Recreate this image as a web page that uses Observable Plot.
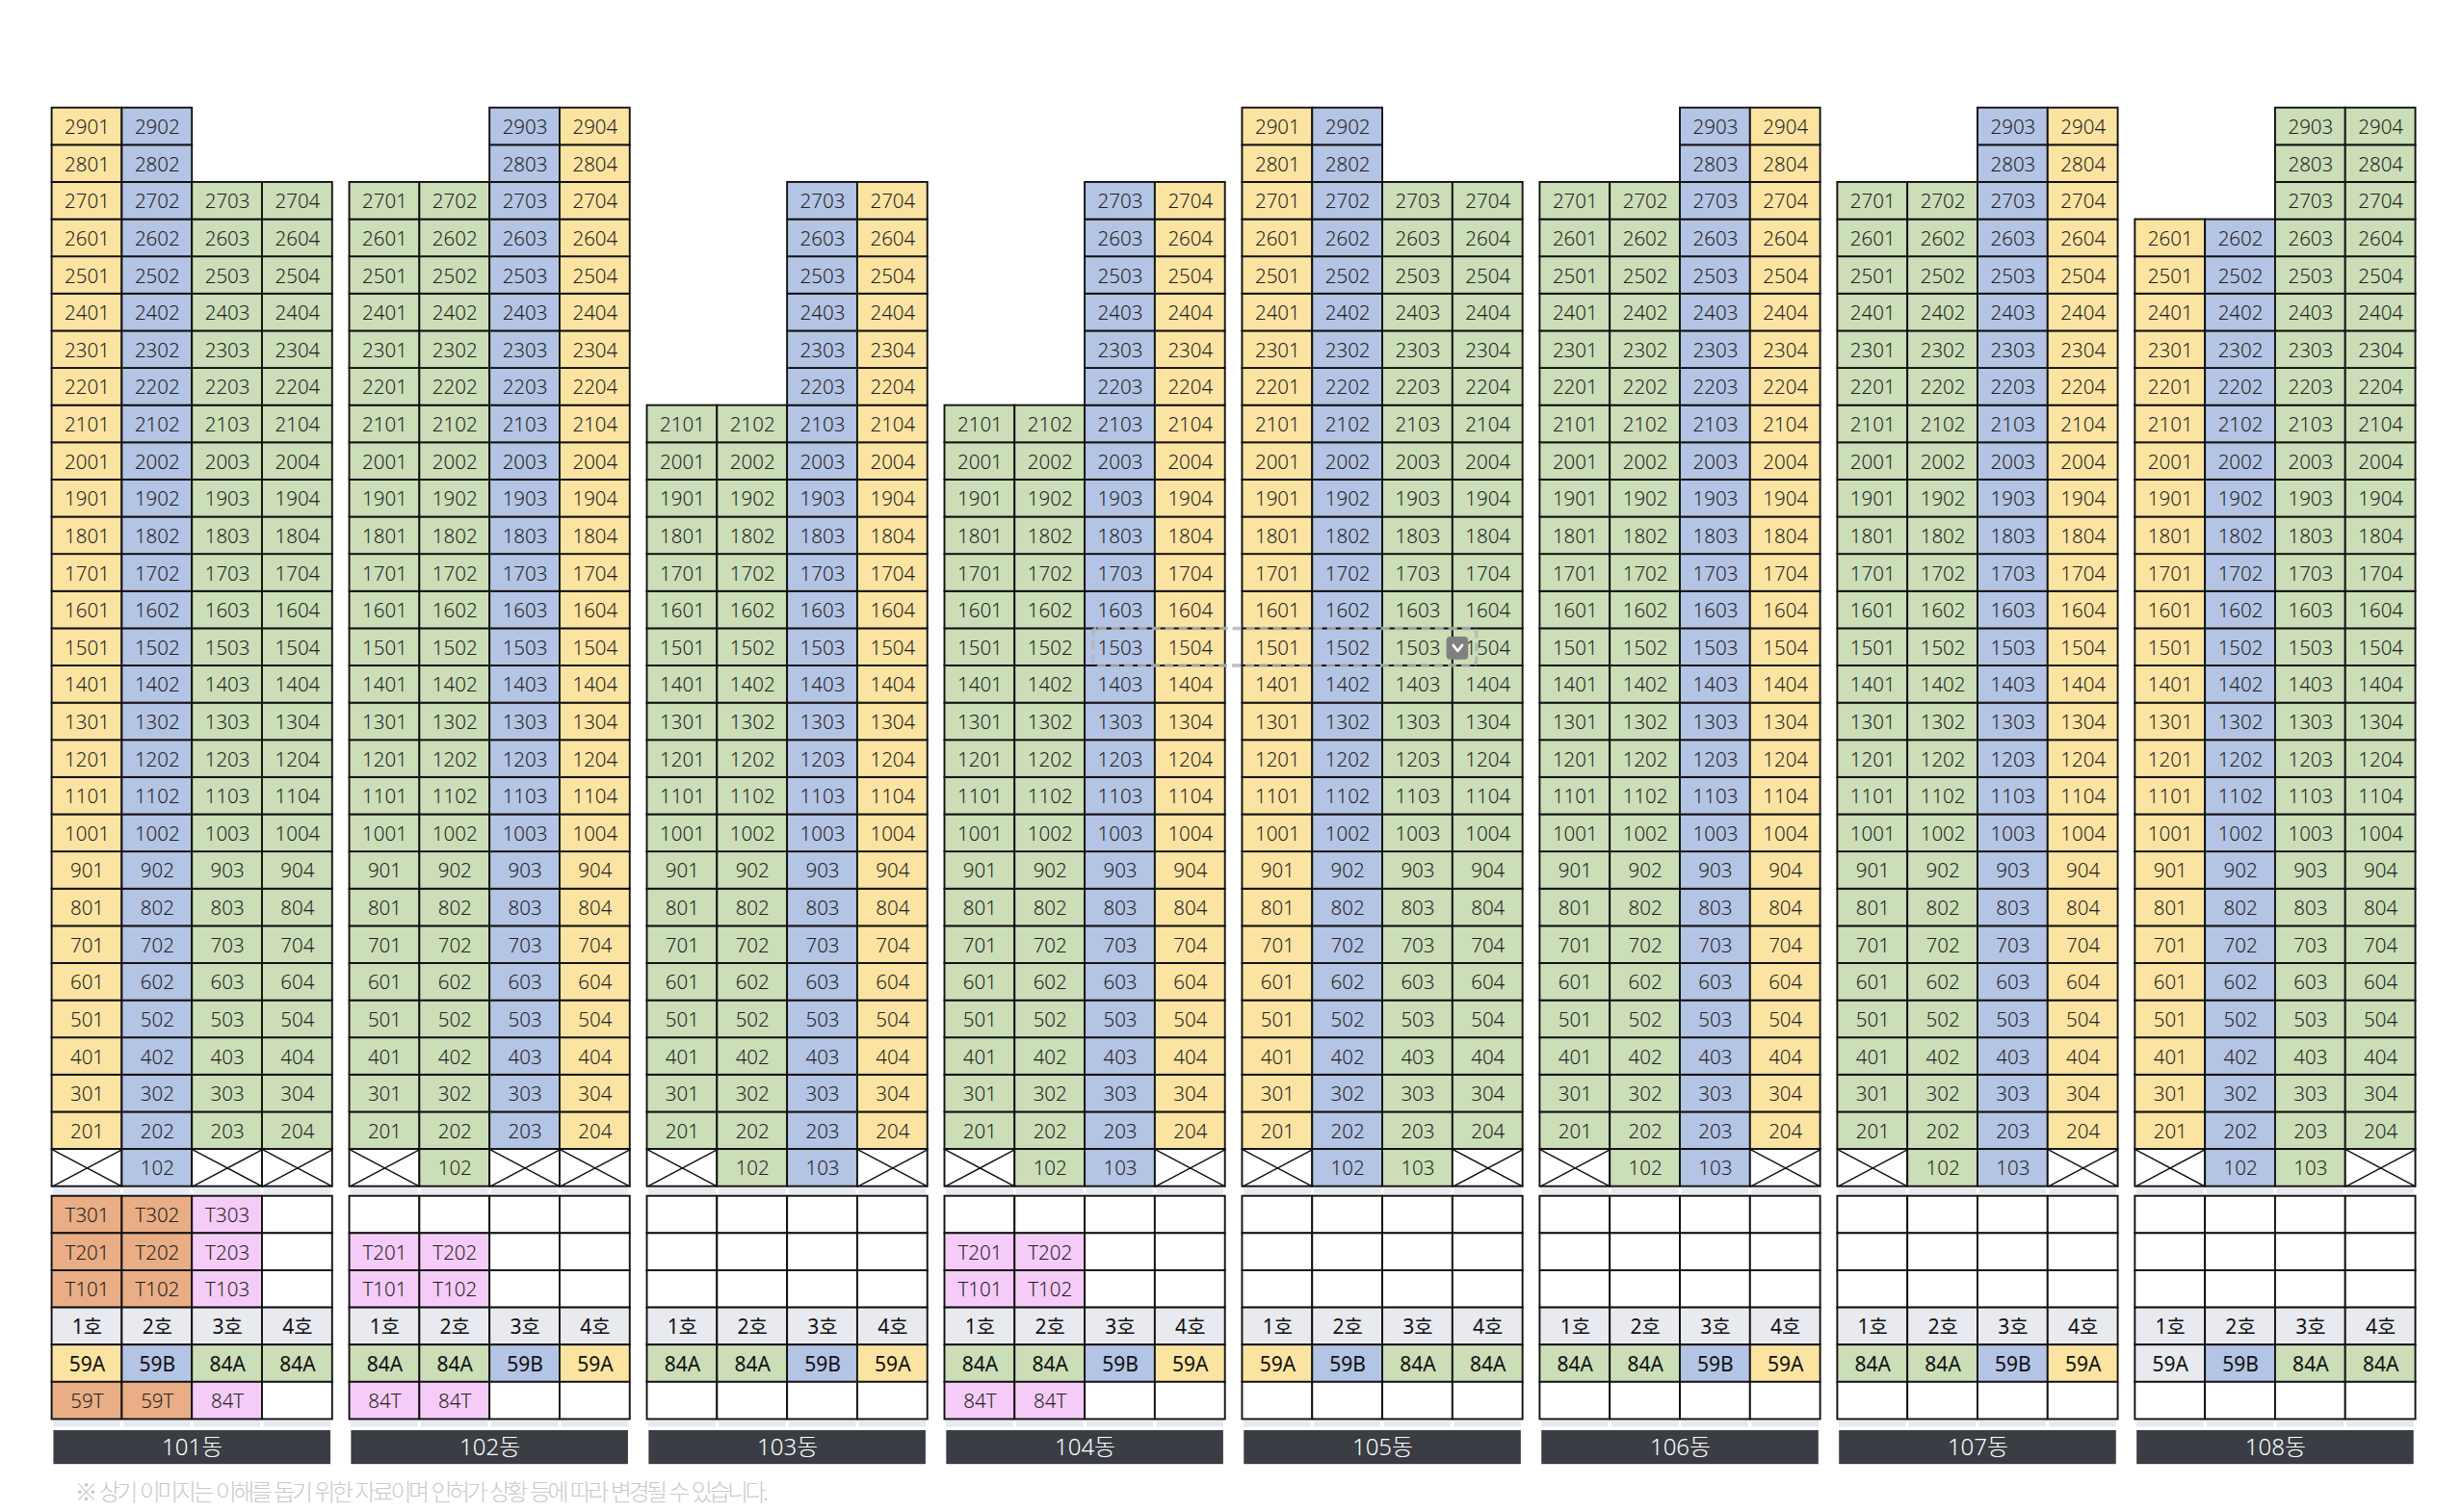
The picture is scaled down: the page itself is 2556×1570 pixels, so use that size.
<!DOCTYPE html>
<html><head><meta charset="utf-8">
<script src="https://cdn.jsdelivr.net/npm/d3@7"></script>
<script src="https://cdn.jsdelivr.net/npm/@observablehq/plot@0.6"></script>
<style>html,body{margin:0;padding:0;background:#fff}svg{display:block}</style>
</head><body><div id="chart"></div>
<script>
const buildings = ["101동","102동","103동","104동","105동","106동","107동","108동"];
const lineNames = ["1호","2호","3호","4호"];
const topFloors = [[29,29,27,27],[27,27,29,29],[21,21,27,27],[21,21,27,27],[29,29,27,27],[27,27,29,29],[27,27,29,29],[26,26,29,29]];
const unitTypes = [
  ["59A","59B","84A","84A"],["84A","84A","59B","59A"],["84A","84A","59B","59A"],["84A","84A","59B","59A"],
  ["59A","59B","84A","84A"],["84A","84A","59B","59A"],["84A","84A","59B","59A"],["59A","59B","84A","84A"]];
const firstFloorUnits = [[null,"102",null,null],[null,"102",null,null],[null,"102","103",null],[null,"102","103",null],
  [null,"102","103",null],[null,"102","103",null],[null,"102","103",null],[null,"102","103",null]];
const terraceTypes = [["59T","59T","84T",null],["84T","84T",null,null],[null,null,null,null],["84T","84T",null,null],
  [null,null,null,null],[null,null,null,null],[null,null,null,null],[null,null,null,null]];
const terraceTops = [3,2,0,2,0,0,0,0];
const typeColors = {"59A":"#fbe4a1","59B":"#b4c4e4","84A":"#cbdeb7","59T":"#e9ae85","84T":"#f5ccf8"};
const headerColor = "#e8eaf0";
const note = "※ 상기 이미지는 이해를 돕기 위한 자료이며 인허가 상황 등에 따라 변경될 수 있습니다.";

const STEP = 4.244;
const cells = [], crosses = [], bands = [], plates = [];
const lowerTop = 0.74;
const lowerY = r => lowerTop - r;
buildings.forEach((name,b) => {
  const bx = b*STEP;
  plates.push({name, x1:bx+0.025, x2:bx+3.975, xc:bx+2});
  for (let c=0;c<4;c++){
    const x1=bx+c, x2=x1+1, t=unitTypes[b][c], tt=terraceTypes[b][c];
    for (let f=2;f<=topFloors[b][c];f++)
      cells.push({x1,x2,y1:f,y2:f+1,fill:typeColors[t],label:`${f}0${c+1}`,size:20});
    const ff=firstFloorUnits[b][c];
    if (ff) {
      cells.push({x1,x2,y1:1,y2:2,fill:typeColors[t],label:ff,size:20});
    } else {
      cells.push({x1,x2,y1:1,y2:2,fill:"#fff",label:""});
      crosses.push({x1,x2,y1:1,y2:2},{x1,x2,y1:2,y2:1});
    }
    bands.push({x1:x1+0.02,x2:x2-0.02,y1:1,y2:lowerTop},{x1:x1+0.02,x2:x2-0.02,y1:lowerY(6),y2:lowerY(6.21)});
    for (let r=0;r<3;r++){
      const level=3-r, on=tt && level<=terraceTops[b];
      cells.push({x1,x2,y1:lowerY(r),y2:lowerY(r+1),fill:on?typeColors[tt]:"#fff",label:on?`T${level}0${c+1}`:"",size:20});
    }
    cells.push({x1,x2,y1:lowerY(3),y2:lowerY(4),fill:headerColor,label:lineNames[c],size:21});
    const isGrey = b===7 && c===0;
    cells.push({x1,x2,y1:lowerY(4),y2:lowerY(5),fill:isGrey?headerColor:typeColors[t],label:t,size:21});
    cells.push({x1,x2,y1:lowerY(5),y2:lowerY(6),fill:tt?typeColors[tt]:"#fff",label:tt||"",size:20});
  }
});
const highlight = [{x1:14.85,x2:20.32,y1:16,y2:15}];
const button = [{x1:19.89,x2:20.2,y1:15.78,y2:15.16}];
const chevron = [{x:19.98,y:15.56},{x:20.045,y:15.4},{x:20.11,y:15.56}];
const font = "'Noto Sans','Noto Sans CJK KR',sans-serif";
const kfont = "'Noto Sans CJK KR','Noto Sans',sans-serif";

const chart = Plot.plot({
  width:2556, height:1570, margin:0,
  x:{domain:[0,34], range:[53.6,53.6+34*72.8], axis:null},
  y:{domain:[30,-8], range:[111.7,111.7+38*38.62], axis:null},
  style:{background:"#fff",fontFamily:font},
  marks:[
    Plot.rect(bands,{x1:"x1",x2:"x2",y1:"y1",y2:"y2",fill:headerColor}),
    Plot.rect(cells,{x1:"x1",x2:"x2",y1:"y1",y2:"y2",fill:"fill",stroke:"#111",strokeWidth:1.9}),
    Plot.link(crosses,{x1:"x1",x2:"x2",y1:"y1",y2:"y2",stroke:"#111",strokeWidth:1.5}),
    Plot.text(cells.filter(d=>d.label&&d.size===20),{x:d=>(d.x1+d.x2)/2,y:d=>(d.y1+d.y2)/2,text:"label",fontSize:20.5,fontWeight:300,fill:"#1f1f1f",dy:1}),
    Plot.text(cells.filter(d=>d.label&&d.size===21),{x:d=>(d.x1+d.x2)/2,y:d=>(d.y1+d.y2)/2,text:"label",fontSize:21,fontWeight:400,fill:"#111",dy:1}),
    Plot.rect(plates,{x1:"x1",x2:"x2",y1:-5.56,y2:-6.47,fill:"#3a3d44"}),
    Plot.text(plates,{x:"xc",y:-6.01,text:"name",fontSize:24,fontWeight:300,fill:"#fff"}),
    Plot.text([note],{x:0.32,y:-7.23,text:d=>d,textAnchor:"start",fontSize:24,fontWeight:300,fontFamily:kfont,fill:"#c9c9c9"}),
    Plot.rect(highlight,{x1:"x1",x2:"x2",y1:"y1",y2:"y2",fill:"none",stroke:"#b5b5b5",strokeWidth:3.5,strokeDasharray:"9,5",rx:5,strokeOpacity:0.85}),
    Plot.rect(button,{x1:"x1",x2:"x2",y1:"y1",y2:"y2",fill:"#808080",rx:4}),
    Plot.line(chevron,{x:"x",y:"y",stroke:"#fff",strokeWidth:2.5})
  ]
});
d3.select(chart).selectAll("text").filter(function(){return this.textContent===note;}).style("letter-spacing","-3.5px").style("word-spacing","3px");
document.getElementById("chart").append(chart);
</script></body></html>
